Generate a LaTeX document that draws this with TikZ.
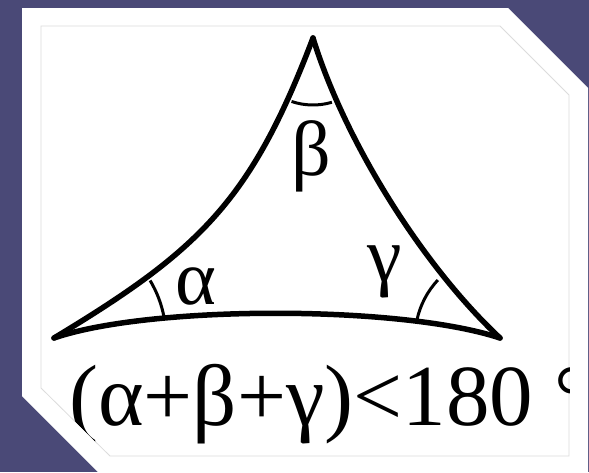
\documentclass[tikz,border=0pt]{standalone}
\usepackage{fontspec}
\setmainfont{Liberation Serif}
\definecolor{bgpurple}{HTML}{4A4977}
\definecolor{framegray}{HTML}{DCDCDC}
\begin{document}
\begin{tikzpicture}[x=1pt,y=-1pt,
  side/.style={line width=5.5pt, line cap=round, line join=round},
  anglearc/.style={line width=3pt},
  lbl/.style={inner sep=0pt, anchor=base, font=\fontsize{78}{82}\selectfont},
  sumtext/.style={inner sep=0pt, anchor=base west, font=\fontsize{87}{92}\selectfont},
  ]
\useasboundingbox (0,0) rectangle (589,472);
\fill[bgpurple] (0,0) rectangle (589,472);
\fill[white] (22,8) -- (508,8) -- (588,88) -- (588,472) -- (98,472) -- (22,396) -- cycle;
\draw[framegray, line width=0.8pt] (41,26) -- (500,26) -- (569,95) -- (569,456) -- (110,456) -- (41,388) -- cycle;
\coordinate (A) at (54,338);
\coordinate (B) at (313,38);
\coordinate (C) at (500,338);
\draw[side] (A) .. controls (200,250) and (251,201) .. (B);
\draw[side] (B) .. controls (344.5,140.5) and (421.8,264.9) .. (C);
\draw[side] (A) .. controls (150,305) and (400,305) .. (C);
\draw[anglearc] ([shift={(-30.9:112)}]A) arc[start angle=-30.9, end angle=-10.5, radius=112];
\draw[anglearc] ([shift={(108.7:67)}]B) arc[start angle=108.7, end angle=73.6, radius=67];
\draw[anglearc] ([shift={(192:85)}]C) arc[start angle=192, end angle=223, radius=85];
\node[lbl] (alpha) at (196,304) {α};
\node[lbl] (beta) at (311,175) {β};
\node[lbl] (gamma) at (385,281) {γ};
\begin{scope}
\clip (41,26) -- (500,26) -- (569,95) -- (569,456) -- (110,456) -- (41,388) -- cycle;
\node[sumtext] (sum) at (69,425) {(α+β+γ)<180 °};
\end{scope}
\end{tikzpicture}
\end{document}
